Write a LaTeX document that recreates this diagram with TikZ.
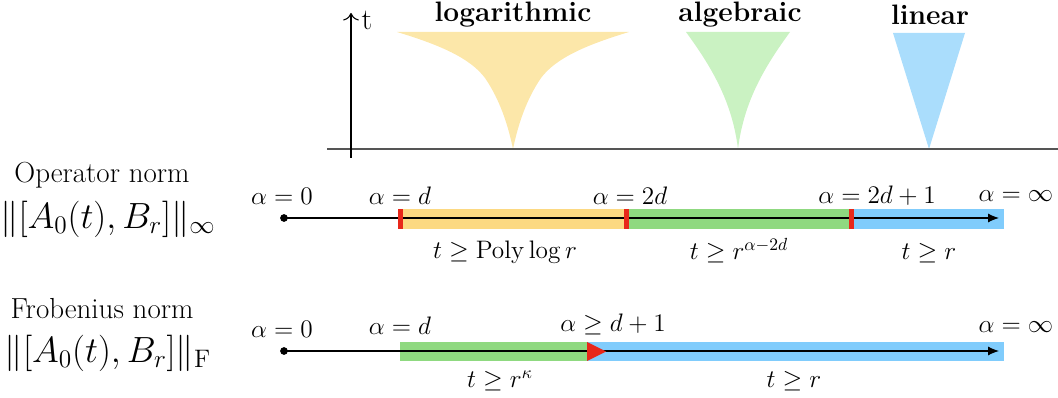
\documentclass[tikz,border=0pt]{standalone}
\usepackage{amsmath,amssymb}
\usetikzlibrary{arrows.meta,positioning,calc}
\definecolor{LogTop}{HTML}{FCE7A9}
\definecolor{AlgTop}{HTML}{CAF2C2}
\definecolor{LinTop}{HTML}{AADDFC}
\definecolor{LogBand}{HTML}{FCD982}
\definecolor{AlgBand}{HTML}{8FD980}
\definecolor{LinBand}{HTML}{80CCFC}
\definecolor{Mark}{HTML}{E8281A}
\definecolor{Axis}{HTML}{555555}
\tikzset{
  lbl/.style={font=\fontsize{14}{16}\selectfont,inner sep=0pt},
  head/.style={font=\fontsize{16}{18}\selectfont\bfseries,inner sep=0pt},
  normname/.style={font=\fontsize{16.5}{18}\selectfont,inner sep=0pt},
  normexpr/.style={font=\fontsize{20}{22}\selectfont,inner sep=0pt},
  alphaline/.style={-{Latex[length=2.2mm,width=1.8mm]},line width=0.6pt},
  redbar/.style={fill=Mark},
}
\begin{document}
\begin{tikzpicture}[x=0.02cm,y=-0.02cm]
\useasboundingbox (0,0) rectangle (1058,398);
% growth of t in each regime
\fill[LogTop] (397,32) .. controls (440,45) and (470,58) .. (485,78)
  .. controls (500,100) and (508,125) .. (513,149)
  .. controls (518,125) and (526,100) .. (541,78)
  .. controls (556,58) and (586,45) .. (629,32) -- cycle;
\fill[AlgTop] (686,32) .. controls (710,65) and (732,100) .. (738,149)
  .. controls (744,100) and (766,65) .. (790,32) -- cycle;
\fill[LinTop] (893,33) -- (965,33) -- (929,149) -- cycle;
\coordinate (t0) at (351,158); \coordinate (t1) at (351,13);
\coordinate (h0) at (327,149); \coordinate (h1) at (1058,149);
\draw[Axis,line width=1pt] (h0) -- (h1);
\draw[-{To[length=1.5mm]},line width=0.6pt] (t0) -- (t1);
\node[lbl,font=\fontsize{17}{19}\selectfont] (tlab) at (367,20) {t};
\node[head] (hlog) at (513,15) {logarithmic};
\node[head] (halg) at (740,15) {algebraic};
\node[head] (hlin) at (930,15) {linear};
% operator norm
\node[normname] (opname) at (102,175) {Operator norm};
\node[normexpr] (opexpr) at (108,219) {$\|[A_0(t),B_r]\|_\infty$};
\coordinate (o0) at (284,218); \coordinate (o1) at (999,218);
\fill[LogBand] (398,209) rectangle (627,229);
\fill[AlgBand] (627,209) rectangle (852,229);
\fill[LinBand] (852,209) rectangle (1004,229);
\draw[alphaline] (o0) -- (o1);
\fill (o0) circle (2.2pt);
\fill[redbar] (398,209) rectangle (403,229);
\fill[redbar] (624,209) rectangle (629,229);
\fill[redbar] (849,209) rectangle (854,229);
\node[lbl] (oa0) at (282,196) {$\alpha=0$};
\node[lbl] (oad) at (400,196) {$\alpha=d$};
\node[lbl] (oa2d) at (630,196) {$\alpha=2d$};
\node[lbl] (oa2d1) at (877,196) {$\alpha=2d+1$};
\node[lbl] (oainf) at (1016,196) {$\alpha=\infty$};
\node[lbl] (olog) at (505,252) {$t\ge\operatorname{Poly}\log r$};
\node[lbl] (oalg) at (739,251) {$t\ge r^{\alpha-2d}$};
\node[lbl] (olin) at (929,253) {$t\ge r$};
% Frobenius norm
\node[normname] (frname) at (102,309) {Frobenius norm};
\node[normexpr] (frexpr) at (108,353) {$\|[A_0(t),B_r]\|_{\mathrm{F}}$};
\coordinate (f0) at (284,351); \coordinate (f1) at (999,351);
\fill[AlgBand] (400,342) rectangle (587,361);
\fill[LinBand] (587,342) rectangle (1004,361);
\draw[alphaline] (f0) -- (f1);
\fill (f0) circle (2.2pt);
\fill[redbar] (587,342) -- (606,351.5) -- (587,361) -- cycle;
\node[lbl] (fa0) at (282,329) {$\alpha=0$};
\node[lbl] (fad) at (400,326) {$\alpha=d$};
\node[lbl] (fad1) at (613,324) {$\alpha\ge d+1$};
\node[lbl] (fainf) at (1016,327) {$\alpha=\infty$};
\node[lbl] (falg) at (500,381) {$t\ge r^{\kappa}$};
\node[lbl] (flin) at (794,381) {$t\ge r$};
\end{tikzpicture}
\end{document}
